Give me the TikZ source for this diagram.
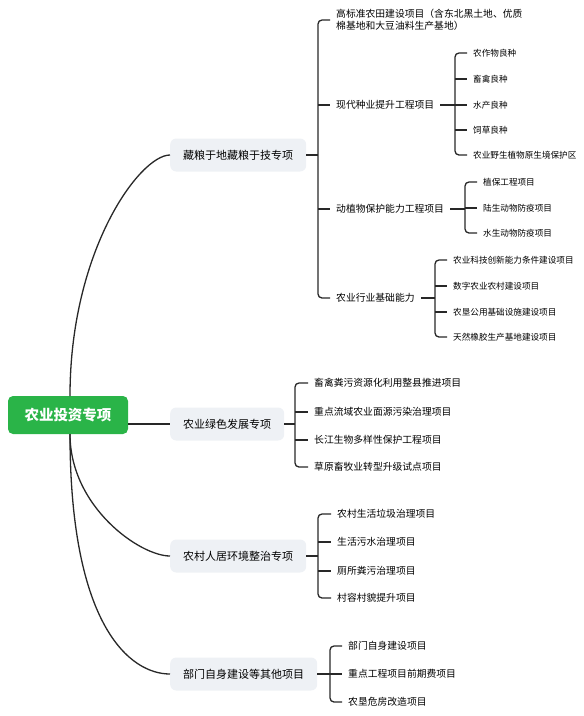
\documentclass[tikz,border=0pt]{standalone}
\usepackage{fontspec}
\setmainfont{Noto Sans CJK SC}
\usetikzlibrary{calc,positioning}
\definecolor{rootgreen}{RGB}{42,180,72}
\definecolor{topicgray}{RGB}{238,241,245}
\definecolor{linkdark}{RGB}{40,40,40}

\begin{document}
\begin{tikzpicture}[x=1pt, y=-1pt,
    root/.style={rectangle, rounded corners=5pt, fill=rootgreen, text=white,
                 minimum width=120pt, minimum height=38pt,
                 font=\fontsize{14.5}{16}\selectfont\bfseries},
    topic/.style={rectangle, rounded corners=6pt, fill=topicgray, anchor=west,
                  inner xsep=13pt, minimum height=33pt,
                  font=\fontsize{11}{13}\selectfont},
    sub/.style={anchor=west, inner xsep=6pt, inner ysep=2pt,
                font=\fontsize{9.8}{12}\selectfont},
    leaf/.style={anchor=west, inner xsep=6pt, inner ysep=2pt,
                 font=\fontsize{8.6}{10}\selectfont},
    link/.style={draw=linkdark, line width=1.3pt},
    brace/.style={link, rounded corners=4pt}
  ]
    \useasboundingbox (0,0) rectangle (584,716);

    % root and main topics
    \node[root]  (root) at (68,415)  {农业投资专项};
    \node[topic] (t1)   at (170,155) {藏粮于地藏粮于技专项};
    \node[topic] (t2)   at (170,424) {农业绿色发展专项};
    \node[topic] (t3)   at (170,556) {农村人居环境整治专项};
    \node[topic] (t4)   at (170,674) {部门自身建设等其他项目};

    \draw[link] (70,396) .. controls +(0,-146) and +(-30,0) .. (t1.west);
    \draw[link] (root.east |- t2.west) -- (t2.west);
    \draw[link] (70,434) .. controls +(0,73) and +(-30,0) .. (t3.west);
    \draw[link] (70,434) .. controls +(0,192) and +(-40,0) .. (t4.west);

    % branch 1
    \node[sub, align=left] (s11) at (330,20) {高标准农田建设项目（含东北黑土地、优质\\棉基地和大豆油料生产基地）};
    \node[sub] (s12) at (330,105) {现代种业提升工程项目};
    \node[sub] (s13) at (330,209) {动植物保护能力工程项目};
    \node[sub] (s14) at (330,298) {农业行业基础能力};
    \coordinate (j1) at (318,155);
    \draw[link] (t1.east) -- (j1);
    \draw[brace] (s11.west) -| (j1) |- (s14.west);
    \foreach \n in {s12,s13} \draw[link] (j1 |- \n.west) -- (\n.west);

    \node[leaf] (l1) at (467,53)  {农作物良种};
    \node[leaf] (l2) at (467,79)  {畜禽良种};
    \node[leaf] (l3) at (467,105) {水产良种};
    \node[leaf] (l4) at (467,130) {饲草良种};
    \node[leaf] (l5) at (467,155) {农业野生植物原生境保护区};
    \coordinate (j12) at (455,105);
    \draw[link] (s12.east) -- (j12);
    \draw[brace] (l1.west) -| (j12) |- (l5.west);
    \foreach \n in {l2,l3,l4} \draw[link] (j12 |- \n.west) -- (\n.west);

    \node[leaf] (p1) at (477,182) {植保工程项目};
    \node[leaf] (p2) at (477,208) {陆生动物防疫项目};
    \node[leaf] (p3) at (477,233) {水生动物防疫项目};
    \coordinate (j13) at (465,208);
    \draw[link] (s13.east) -- (s13.east -| j13);
    \draw[brace] (p1.west) -| (j13) |- (p3.west);
    \draw[link] (j13 |- p2.west) -- (p2.west);

    \node[leaf] (b1) at (447,260) {农业科技创新能力条件建设项目};
    \node[leaf] (b2) at (447,286) {数字农业农村建设项目};
    \node[leaf] (b3) at (447,312) {农垦公用基础设施建设项目};
    \node[leaf] (b4) at (447,337) {天然橡胶生产基地建设项目};
    \coordinate (j14) at (435,298);
    \draw[link] (s14.east) -- (j14);
    \draw[brace] (b1.west) -| (j14) |- (b4.west);
    \foreach \n in {b2,b3} \draw[link] (j14 |- \n.west) -- (\n.west);

    % branch 2
    \node[sub] (g1) at (308,383) {畜禽粪污资源化利用整县推进项目};
    \node[sub] (g2) at (308,412) {重点流域农业面源污染治理项目};
    \node[sub] (g3) at (308,440) {长江生物多样性保护工程项目};
    \node[sub] (g4) at (308,467) {草原畜牧业转型升级试点项目};
    \coordinate (j2) at (295,424);
    \draw[link] (t2.east) -- (j2);
    \draw[brace] (g1.west) -| (j2) |- (g4.west);
    \foreach \n in {g2,g3} \draw[link] (j2 |- \n.west) -- (\n.west);

    % branch 3
    \node[sub] (r1) at (331,514) {农村生活垃圾治理项目};
    \node[sub] (r2) at (331,542) {生活污水治理项目};
    \node[sub] (r3) at (331,571) {厕所粪污治理项目};
    \node[sub] (r4) at (331,598) {村容村貌提升项目};
    \coordinate (j3) at (318,556);
    \draw[link] (t3.east) -- (j3);
    \draw[brace] (r1.west) -| (j3) |- (r4.west);
    \foreach \n in {r2,r3} \draw[link] (j3 |- \n.west) -- (\n.west);

    % branch 4
    \node[sub] (d1) at (342,646) {部门自身建设项目};
    \node[sub] (d2) at (342,674) {重点工程项目前期费项目};
    \node[sub] (d3) at (342,702) {农垦危房改造项目};
    \coordinate (j4) at (330,674);
    \draw[link] (t4.east) -- (j4);
    \draw[brace] (d1.west) -| (j4) |- (d3.west);
    \draw[link] (j4) -- (d2.west);
  \end{tikzpicture}
\end{document}
